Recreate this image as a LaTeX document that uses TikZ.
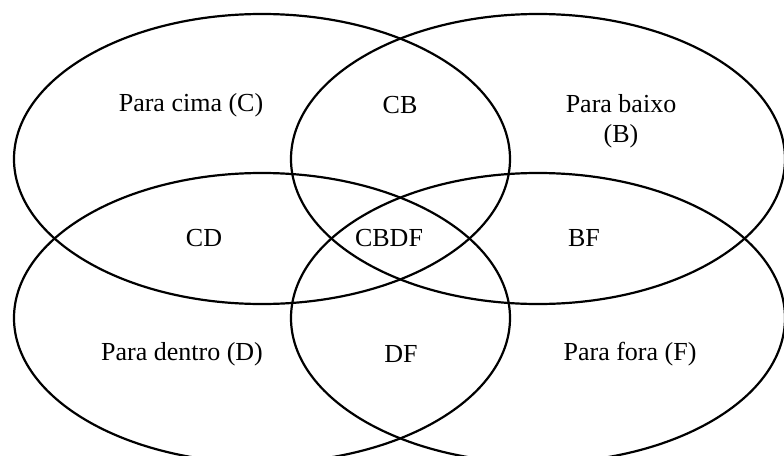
\documentclass[tikz,border=0pt]{standalone}
\usepackage{fontspec}
\setmainfont{Liberation Serif}
\begin{document}
\begin{tikzpicture}[x=1pt,y=-1pt,
  ring/.style={draw=black,line width=2.2pt},
  lbl/.style={font=\fontsize{26}{30}\selectfont,text=black,inner sep=0pt,align=center}]
\useasboundingbox (0,0) rectangle (784,455);
\clip (0,0) rectangle (784,455);
\draw[ring] (262,159) ellipse [x radius=248pt, y radius=145pt];
\draw[ring] (538,159) ellipse [x radius=247pt, y radius=145pt];
\draw[ring] (262,318) ellipse [x radius=248pt, y radius=145pt];
\draw[ring] (538,318) ellipse [x radius=247pt, y radius=145pt];
\node[lbl] (c) at (191,105) {Para cima (C)};
\node[lbl] (cb) at (400,105) {CB};
\node[lbl] (b) at (621,121) {Para baixo\\(B)};
\node[lbl] (cd) at (204,238) {CD};
\node[lbl] (cbdf) at (389,238) {CBDF};
\node[lbl] (bf) at (584,238) {BF};
\node[lbl] (d) at (182,354) {Para dentro (D)};
\node[lbl] (df) at (401,354) {DF};
\node[lbl] (f) at (630,354) {Para fora (F)};
\end{tikzpicture}
\end{document}
